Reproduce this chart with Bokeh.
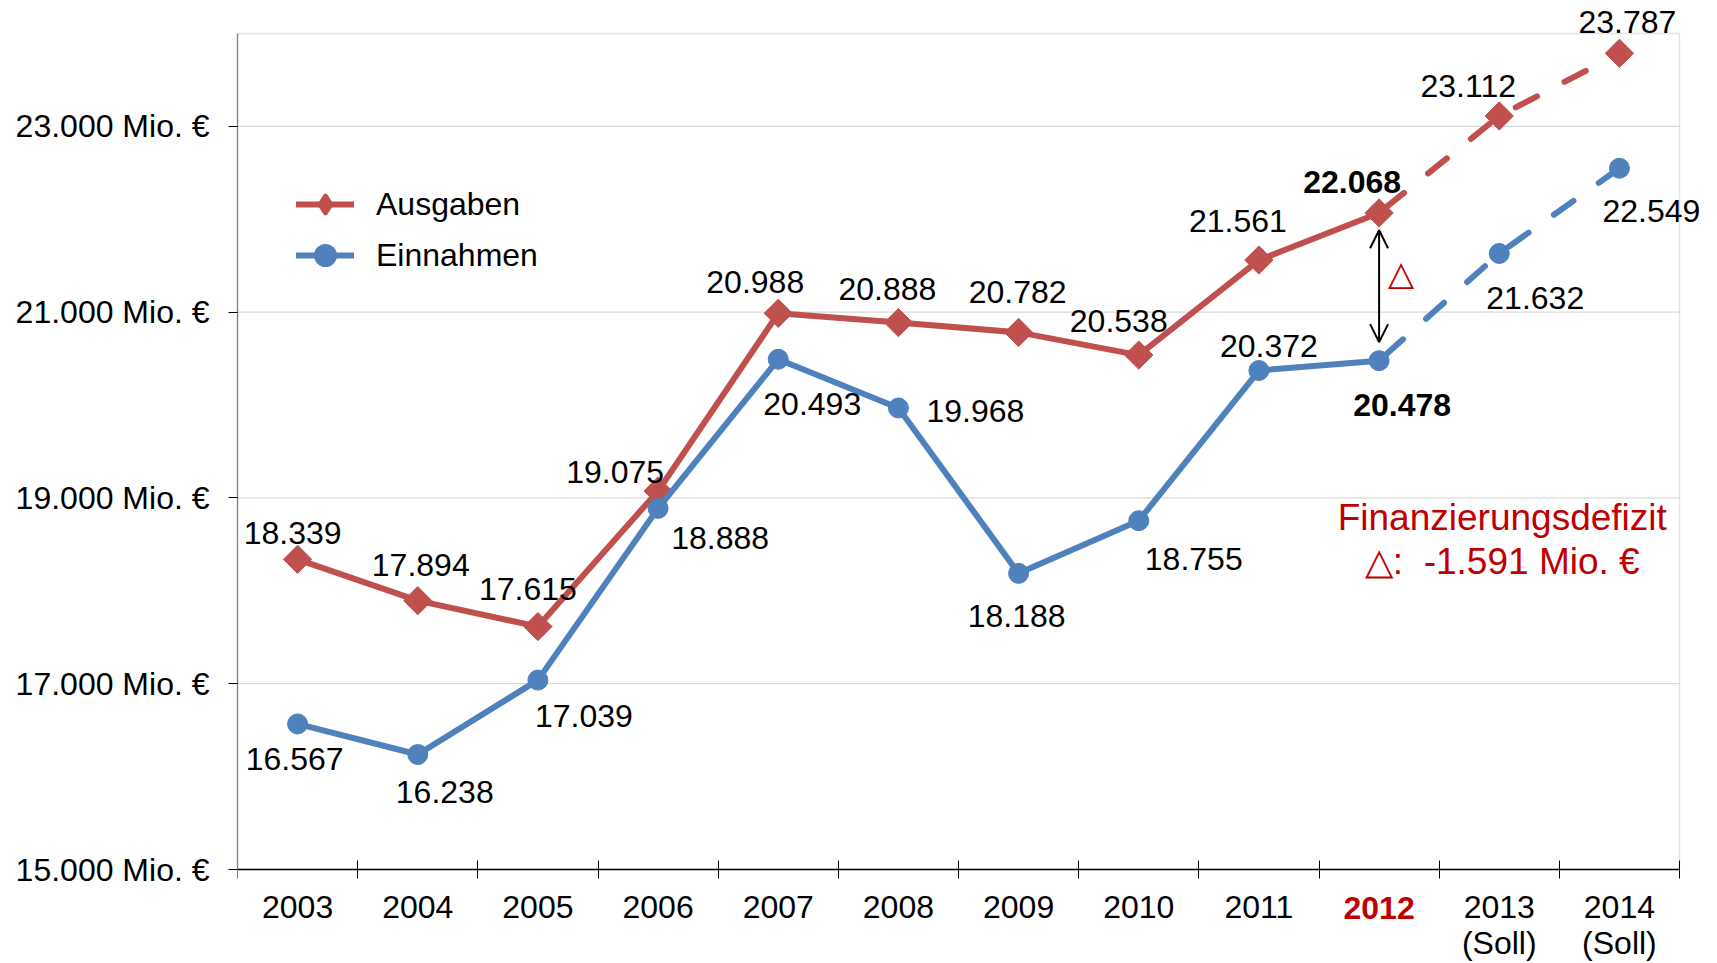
from bokeh.plotting import figure
from bokeh.models import (ColumnDataSource, FixedTicker, Legend, LegendItem, Label,
                          Arrow, OpenHead, Range1d, BoxAnnotation)
from bokeh.embed import file_html
from bokeh.resources import INLINE
import math

# ---------------- data ----------------
years = ["2003", "2004", "2005", "2006", "2007", "2008", "2009", "2010", "2011", "2012", "2013", "2014"]
year_labels = ["2003", "2004", "2005", "2006", "2007", "2008", "2009", "2010", "2011", "2012",
               "2013\n(Soll)", "2014\n(Soll)"]
ausgaben = [18339, 17894, 17615, 19075, 20988, 20888, 20782, 20538, 21561, 22068, 23112, 23787]
einnahmen = [16567, 16238, 17039, 18888, 20493, 19968, 18188, 18755, 20372, 20478, 21632, 22549]
y_ticks = [15000, 17000, 19000, 21000, 23000]
y_min, y_max = 15000, 24000
highlight_year = "2012"
deficit_title = "Finanzierungsdefizit"
deficit_value = "△:\u00a0\u00a0-1.591 Mio. €"
series_names = ["Ausgaben", "Einnahmen"]

# ---------------- layout / style ----------------
RED = "#C0504D"
BLUE = "#4F81BD"
DARKRED = "#C00000"
BORDER = "#a6a6a6"
GRID = "#d9d9d9"
FONT = "Liberation Sans"
FS = "32px"
W, H = 1717, 963
LEFT = 237          # left edge of the plot area
TOP = 33            # top edge of the plot area
AREA_W = 1442       # plot area width
AREA_H = 836        # plot area height

# label offsets in screen pixels (dx right, dy down)
aus_dx = [-5, 3, -10, -43, -23, -11, -1, -20, -21, -27, -31, 8]
aus_dy = [-26, -36, -38, -19, -31, -34, -40, -34, -39, -31, -30, -31]
ein_dx = [-3, 27, 46, 62, 34, 77, -2, 55, 10, 23, 36, 32]
ein_dy = [35, 37, 36, 30, 45, 3, 43, 38, -25, 44, 45, 43]


def fmt(v):
    return f"{v:,}".replace(",", ".")


xs = list(range(len(years)))
hi = years.index(highlight_year)
x_lo, x_hi = -0.5, len(years) - 0.5
ppx = AREA_W / (x_hi - x_lo)        # px per category
ppy = AREA_H / (y_max - y_min)      # px per Mio.
frame_w = W - LEFT
# the frame is extended beyond the plot area so that labels near the edges are not clipped
xr = Range1d(x_lo, x_lo + frame_w / ppx)
yr = Range1d(y_min - (H - TOP - AREA_H) / ppy, y_max + TOP / ppy)

p = figure(frame_width=frame_w, frame_height=H, x_range=xr, y_range=yr,
           output_backend="svg", toolbar_location=None,
           min_border_left=LEFT, min_border_top=0, min_border_right=0, min_border_bottom=0)
p.background_fill_color = "white"
p.border_fill_color = "white"
p.outline_line_color = None
p.xgrid.visible = False
p.ygrid.visible = False

# horizontal gridlines limited to the plot area
grid_src = ColumnDataSource(dict(y=y_ticks[1:]))
p.segment(x0=x_lo, x1=x_hi, y0="y", y1="y", source=grid_src, line_color=GRID, line_width=1.3,
          level="underlay")
# plot-area border
p.add_layout(BoxAnnotation(left=x_lo, right=x_hi, bottom=y_min, top=y_max, fill_alpha=0,
                           line_color=BORDER, line_width=1.3, level="underlay"))

# y axis
p.yaxis.ticker = FixedTicker(ticks=y_ticks)
p.yaxis.bounds = (y_min, y_max)
p.yaxis.major_label_overrides = {t: fmt(t) + " Mio. €" for t in y_ticks}
p.yaxis.major_label_text_font = FONT
p.yaxis.major_label_text_font_size = FS
p.yaxis.major_label_text_color = "black"
p.yaxis.major_tick_in = 0
p.yaxis.major_tick_out = 9
p.yaxis.major_tick_line_color = "black"
p.yaxis.minor_tick_line_color = None
p.yaxis.axis_line_color = "#808080"
p.yaxis.axis_line_width = 1.3
p.yaxis.major_label_standoff = 19

# x axis (sits at the bottom of the plot area)
p.xaxis.fixed_location = y_min
p.xaxis.bounds = (x_lo, x_hi)
p.xaxis.ticker = FixedTicker(ticks=xs, minor_ticks=[i - 0.5 for i in range(len(years) + 1)])
overrides = {i: lab for i, lab in enumerate(year_labels)}
overrides[hi] = " "
p.xaxis.major_label_overrides = overrides
p.xaxis.major_label_text_font = FONT
p.xaxis.major_label_text_font_size = FS
p.xaxis.major_label_text_color = "black"
p.xaxis.major_label_text_line_height = 1.0
p.xaxis.major_tick_in = 0
p.xaxis.major_tick_out = 0
p.xaxis.minor_tick_in = 9
p.xaxis.minor_tick_out = 9
p.xaxis.minor_tick_line_color = "black"
p.xaxis.minor_tick_line_width = 1
p.xaxis.axis_line_color = "black"
p.xaxis.axis_line_width = 1.5
p.xaxis.major_label_standoff = 10

# highlighted year tick label (red, bold) on the axis label row
p.add_layout(Label(x=hi, y=y_min - 38 / ppy, text=highlight_year, text_font=FONT,
                   text_font_size=FS, text_font_style="bold", text_color=DARKRED,
                   text_align="center", text_baseline="middle"))

# ---------------- lines ----------------
renderers = {}
for name, vals, color, marker, legend_marker in [("Ausgaben", ausgaben, RED, "square", "diamond"),
                                                  ("Einnahmen", einnahmen, BLUE, "circle", "circle")]:
    solid = ColumnDataSource(dict(x=xs[:hi + 1], y=vals[:hi + 1]))
    dashed = ColumnDataSource(dict(x=xs[hi:], y=vals[hi:]))
    pts = ColumnDataSource(dict(x=xs, y=vals))
    l1 = p.line("x", "y", source=solid, line_color=color, line_width=6, line_join="round", line_cap="round")
    p.line("x", "y", source=dashed, line_color=color, line_width=6, line_cap="round",
           line_dash="24 31", line_dash_offset=-8)
    angle = math.pi / 4 if marker == "square" else 0
    p.scatter("x", "y", source=pts, marker=marker, size=20, angle=angle,
              fill_color=color, line_color=color)
    lg = p.scatter("x", "y", source=pts, marker=legend_marker, fill_color=color, line_color=color,
                   line_width=3, visible=False)
    renderers[name] = [l1, lg]

# ---------------- data labels ----------------
for vals, dx, dy in [(ausgaben, aus_dx, aus_dy), (einnahmen, ein_dx, ein_dy)]:
    for i in xs:
        p.add_layout(Label(x=xs[i], y=vals[i], text=fmt(vals[i]), x_offset=dx[i], y_offset=-dy[i],
                           text_font=FONT, text_font_size=FS,
                           text_font_style="bold" if i == hi else "normal", text_color="black",
                           text_align="center", text_baseline="middle"))

# ---------------- deficit annotation ----------------
p.add_layout(Arrow(start=OpenHead(size=18, line_width=2, line_color="black"),
                   end=OpenHead(size=18, line_width=2, line_color="black"),
                   x_start=hi, y_start=ausgaben[hi] - 186, x_end=hi, y_end=einnahmen[hi] + 199,
                   line_width=2, line_color="black"))
mid = (ausgaben[hi] + einnahmen[hi]) / 2
p.add_layout(Label(x=hi, y=mid, x_offset=22, y_offset=14, text="△", text_font="DejaVu Sans",
                   text_font_size="34px", text_color=DARKRED, text_align="center", text_baseline="middle"))
p.add_layout(Label(x=hi + 1, y=18785, x_offset=3, text=deficit_title, text_font=FONT, text_font_size="37px",
                   text_color=DARKRED, text_align="center", text_baseline="middle"))
p.add_layout(Label(x=hi + 1, y=18312, x_offset=3, text=deficit_value, text_font=FONT, text_font_size="37px",
                   text_color=DARKRED, text_align="center", text_baseline="middle"))

# ---------------- legend ----------------
legend = Legend(items=[LegendItem(label=n, renderers=renderers[n]) for n in series_names],
                location=(59, H - 280), glyph_width=58, glyph_height=50, spacing=1,
                label_standoff=22, label_text_font=FONT, label_text_font_size=FS,
                label_text_color="black",
                label_height=50, padding=0, margin=0, border_line_alpha=0, background_fill_alpha=0)
p.add_layout(legend)

open("out.html", "w").write(file_html(p, INLINE))
